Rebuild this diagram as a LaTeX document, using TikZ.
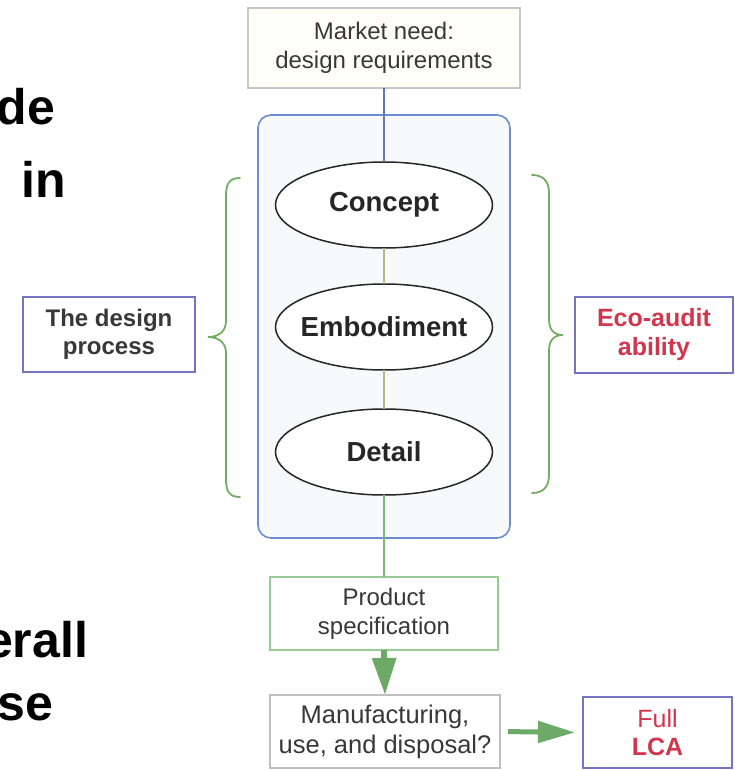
\documentclass[tikz,border=0pt]{standalone}
\usepackage{fontspec}
\setmainfont{Liberation Sans}
\usetikzlibrary{arrows.meta,shapes.geometric}
\definecolor{procblue}{HTML}{6A8ED2}
\definecolor{procfill}{HTML}{F7F9FB}
\definecolor{bracegreen}{HTML}{72AE62}
\definecolor{arrowgreen}{HTML}{6DAA68}
\definecolor{linegreen}{HTML}{7DB877}
\definecolor{olive}{HTML}{B8B88A}
\definecolor{topblue}{HTML}{5A78B8}
\definecolor{ecored}{HTML}{D2364E}
\definecolor{boxpurple}{HTML}{7474C4}
\definecolor{txt}{HTML}{383838}
\tikzset{
  every node/.style={inner sep=0pt, outer sep=0pt},
  box/.style={draw, line width=1.2pt, fill=white, align=center, text=txt,
              font=\fontsize{24}{29}\selectfont},
  stage/.style={ellipse, draw=black!85, line width=1.5pt, fill=white,
                minimum width=217, minimum height=86, text=black!85,
                font=\bfseries\fontsize{27.5}{30}\selectfont},
  frag/.style={anchor=base east, font=\bfseries\fontsize{50}{56}\selectfont},
  link/.style={line width=1.6pt},
}
\begin{document}
\begin{tikzpicture}[x=1pt,y=-1pt]
\clip (0,0) rectangle (734,770);
\fill[white] (0,0) rectangle (734,770);

% cropped slide text fragments
\node[frag] (f1) at (55,125) {de};
\node[frag] (f2) at (66,197) {in};
\node[frag] (f3) at (88,657) {erall};
\node[frag] (f4) at (53,720) {se};

% process frame
\node[draw=procblue, fill=procfill, line width=1.6pt, rounded corners=13,
      minimum width=252, minimum height=423] (proc) at (384,326.5) {};

% top box
\node[box, draw=black!22, fill=yellow!3, minimum width=272, minimum height=80]
  (market) at (384,48) {Market need:\\design requirements};

% stages
\node[stage] (concept) at (384,205) {\makebox[0pt]{Concept}};
\node[stage] (embod) at (384,327) {\makebox[0pt]{Embodiment}};
\node[stage] (detail) at (384,452) {\makebox[0pt]{Detail}};

% lower boxes
\node[box, draw=green!35!gray!60, minimum width=228, minimum height=73]
  (spec) at (384,613.5) {Product\\specification};
\node[box, draw=black!25, minimum width=230, minimum height=73,
      font=\fontsize{25.5}{30}\selectfont]
  (manuf) at (385,731.5) {Manufacturing,\\use, and disposal?};
\node[box, draw=boxpurple, minimum width=149, minimum height=71, text=ecored,
      font=\fontsize{25}{28}\selectfont]
  (lca) at (657.5,732.5) {Full\\\textbf{LCA}};

% side boxes
\node[box, draw=boxpurple, minimum width=172, minimum height=75,
      font=\bfseries\fontsize{24}{28}\selectfont]
  (design) at (109,334.5) {The design\\process};
\node[box, draw=boxpurple, minimum width=158, minimum height=76, text=ecored,
      font=\bfseries\fontsize{25}{29}\selectfont]
  (eco) at (654,335) {Eco-audit\\ability};

% connectors
\draw[link, topblue] (market.south) -- (proc.north);
\draw[link, topblue!60!gray] (proc.north) -- (concept.north);
\draw[link, olive] (concept.south) -- (embod.north);
\draw[link, olive] (embod.south) -- (detail.north);
\draw[link, linegreen, line width=2pt] (detail.south) -- (spec.north);
\draw[arrowgreen, line width=6pt, -{Triangle[length=37pt,width=23pt]}]
  (spec.south) -- (manuf.north);
\draw[arrowgreen, line width=5pt, shorten <=8pt, shorten >=8pt,
      -{Triangle[length=37pt,width=21pt]}]
  (manuf.east) -- (lca.west);

% braces
\draw[bracegreen, line width=1.8pt, line cap=round]
  (240,178) .. controls (229,178) and (226,184) .. (226,196) -- (226,321)
  .. controls (226,331) and (219,337) .. (208,337)
  .. controls (219,337) and (226,343) .. (226,353) -- (226,479)
  .. controls (226,491) and (229,497) .. (240,497);
\draw[bracegreen, line width=1.8pt, line cap=round]
  (532,175) .. controls (543,175) and (549,181) .. (549,193) -- (549,319)
  .. controls (549,329) and (553,335) .. (563,335)
  .. controls (553,335) and (549,341) .. (549,351) -- (549,475)
  .. controls (549,487) and (543,493) .. (532,493);
\end{tikzpicture}
\end{document}
